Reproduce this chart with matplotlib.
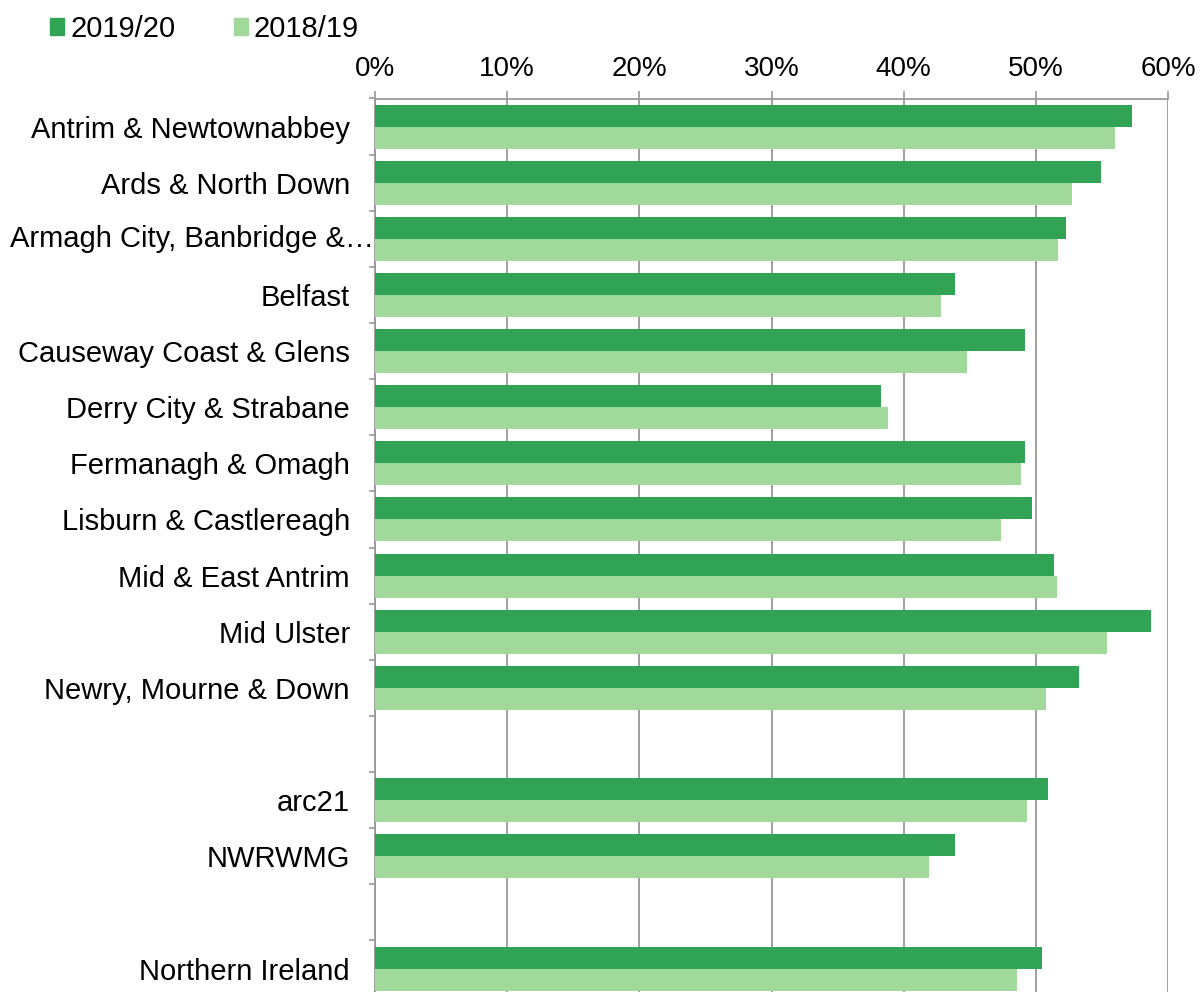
import numpy as np
import matplotlib.pyplot as plt
from matplotlib.patches import Patch

plt.rcParams['font.family'] = ['Liberation Sans', 'DejaVu Sans']

# category order top to bottom; '' marks the blank spacer rows
categories = ['Antrim & Newtownabbey', 'Ards & North Down', 'Armagh City, Banbridge &\u2026',
              'Belfast', 'Causeway Coast & Glens', 'Derry City & Strabane',
              'Fermanagh & Omagh', 'Lisburn & Castlereagh', 'Mid & East Antrim',
              'Mid Ulster', 'Newry, Mourne & Down', '', 'arc21', 'NWRWMG', '',
              'Northern Ireland']
rate_2019_20 = [57.3, 54.9, 52.3, 43.9, 49.2, 38.3, 49.2, 49.7, 51.4, 58.7, 53.3,
                np.nan, 50.9, 43.9, np.nan, 50.5]
rate_2018_19 = [56.0, 52.7, 51.7, 42.8, 44.8, 38.8, 48.9, 47.4, 51.6, 55.4, 50.8,
                np.nan, 49.3, 41.9, np.nan, 48.6]
series_names = ['2019/20', '2018/19']
dark_green = '#31a354'
light_green = '#a1d99b'
grid_grey = '#999999'

W, H = 1203, 992
fig = plt.figure(figsize=(W / 100, H / 100), dpi=100)
ax = fig.add_axes([375 / W, 1 - 996.6 / H, (1168 - 375) / W, (996.6 - 98.5) / H])

n = len(categories)
y = np.arange(n)
bh = 0.392
ax.barh(y - bh / 2, np.array(rate_2019_20) / 100, height=bh, color=dark_green, zorder=3)
ax.barh(y + bh / 2, np.array(rate_2018_19) / 100, height=bh, color=light_green, zorder=3)

ax.set_ylim(n - 0.5, -0.5)
ax.set_xlim(0, 0.6)

ax.xaxis.tick_top()
xt = np.arange(0, 0.61, 0.1)
ax.set_xticks(xt, [f'{int(round(v * 100))}%' for v in xt])
ax.tick_params(axis='x', which='major', length=5.8, width=1.2, color=grid_grey,
               labelsize=20, pad=6)
ax.grid(axis='x', color=grid_grey, linewidth=1.3, zorder=0)

labels = [c if not c.startswith('Armagh') else '' for c in categories]
ax.set_yticks(y, labels)
ax.set_yticks(np.arange(n + 1) - 0.5, minor=True)
ax.tick_params(axis='y', which='major', length=0, labelsize=21, pad=18)
ax.tick_params(axis='y', which='minor', length=4, width=1.2, color=grid_grey)

# the long Armagh label overflows the label column in the original
armagh = [i for i, c in enumerate(categories) if c.startswith('Armagh')][0]
ax.annotate(categories[armagh], xy=(10 / W, armagh), xycoords=('figure fraction', 'data'),
            ha='left', va='center', fontsize=21, annotation_clip=False)

for side in ['right', 'bottom']:
    ax.spines[side].set_visible(False)
for side in ['left', 'top']:
    ax.spines[side].set_color(grid_grey)
    ax.spines[side].set_linewidth(1.3)

handles = [Patch(color=dark_green), Patch(color=light_green)]
fig.legend(handles, series_names, loc='upper left', bbox_to_anchor=(38 / W, 1 - 3 / H),
           ncol=2, frameon=False, fontsize=21, handlelength=0.5, handleheight=0.5,
           handletextpad=0.2, columnspacing=2.0, borderaxespad=0)

fig.savefig('out.png', dpi=100)
